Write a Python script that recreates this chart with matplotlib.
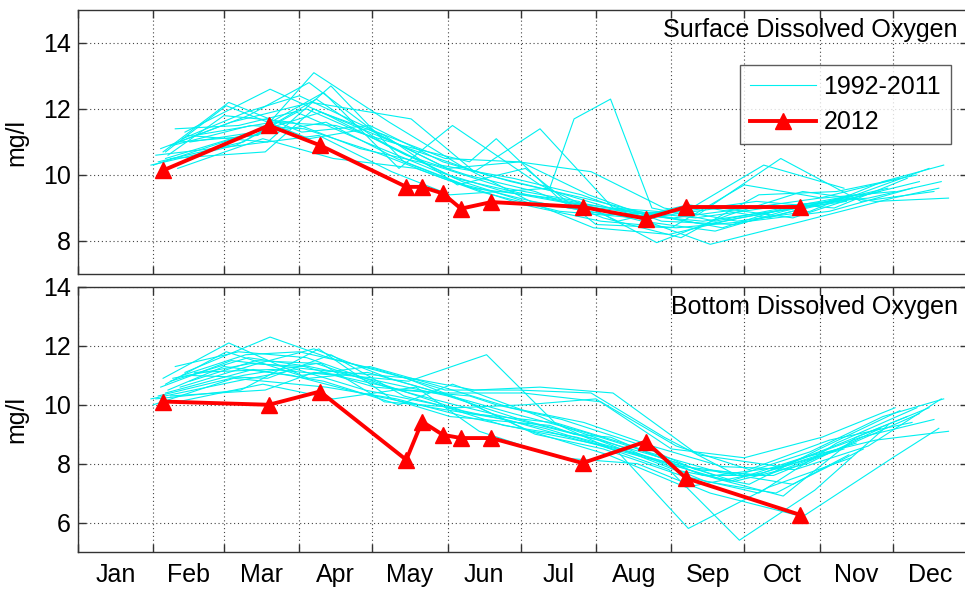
import matplotlib
matplotlib.use("Agg")
import matplotlib.pyplot as plt
import numpy as np

plt.rcParams['font.family'] = ['Liberation Sans', 'DejaVu Sans']

# ---------------- data ----------------
month_labels = ["Jan", "Feb", "Mar", "Apr", "May", "Jun",
                "Jul", "Aug", "Sep", "Oct", "Nov", "Dec"]
month_starts = [0, 31, 60, 91, 121, 152, 182, 213, 244, 274, 305, 335, 366]

# 2012 sampling (day of year, 0 = Jan 1)
days_2012 = [35, 78.5, 99.5, 135, 141.5, 150, 157.5, 170, 207.5, 233.5, 250, 297]
surface_2012 = [10.14, 11.5, 10.9, 9.64, 9.64, 9.44, 8.98, 9.18, 9.03, 8.68, 9.03, 9.03]
bottom_2012 = [10.11, 10.0, 10.45, 8.13, 9.43, 8.98, 8.87, 8.87, 8.02, 8.75, 7.51, 6.26]

# 1992-2011 sampling days, one list per year
hist_days = [
    [33, 68, 98, 127, 155, 185, 214, 245, 276, 305, 338],
    [38, 70, 95, 124, 152, 182, 210, 240, 270, 300, 330],
    [44, 79, 103, 135, 160, 188, 216, 248, 280, 312, 345],
    [35, 62, 92, 120, 150, 178, 208, 236, 265, 295, 325, 355],
    [42, 74, 97, 128, 157, 186, 218, 250, 282, 315],
    [30, 65, 90, 118, 148, 175, 205, 232, 262, 290, 320, 350],
    [36, 72, 101, 132, 154, 190, 222, 251, 284, 318],
    [40, 66, 94, 125, 158, 192, 212, 243, 272, 303, 333],
    [34, 63, 96, 137, 163, 190, 220, 255, 289, 322, 352],
    [45, 78, 104, 134, 162, 195, 226, 258, 287, 317],
    [37, 60, 88, 116, 146, 176, 206, 238, 268, 298, 328, 358],
    [32, 67, 99, 129, 153, 194, 204, 219, 236, 262, 290, 320],
    [39, 71, 93, 122, 150, 183, 215, 246, 276, 309, 343],
    [41, 76, 105, 139, 165, 198, 230, 260, 298, 335, 354],
    [43, 69, 91, 123, 151, 181, 211, 241, 271, 301, 331, 356],
    [31, 64, 102, 131, 159, 187, 217, 249, 279, 311, 341],
    [46, 73, 100, 126, 156, 184, 213, 244, 274, 306, 336],
    [36, 61, 95, 119, 149, 179, 207, 234, 264, 294, 323],
    [38, 77, 97, 136, 168, 196, 228, 257, 286, 316],
    [48, 80, 106, 133, 161, 172, 199, 229, 254, 283, 313, 346],
]

hist_surface = [
    [10.4, 11.0, 12.3, 10.9, 9.9, 9.4, 9.0, 8.7, 9.0, 9.3, 9.9],
    [10.9, 11.8, 12.8, 11.2, 10.2, 10.4, 9.4, 8.6, 8.5, 9.0, 9.5],
    [11.3, 12.6, 11.8, 10.6, 10.0, 9.5, 8.7, 8.1, 9.4, 9.5, 10.0],
    [10.7, 12.2, 11.3, 11.5, 10.4, 9.8, 9.3, 8.8, 8.4, 9.1, 9.3, 9.8],
    [11.0, 11.2, 13.1, 11.6, 10.3, 9.2, 8.8, 8.9, 10.3, 9.6],
    [10.3, 10.9, 11.9, 11.0, 10.1, 9.5, 9.1, 8.6, 8.3, 8.9, 9.4, 10.2],
    [10.5, 11.3, 12.5, 10.2, 11.5, 9.7, 8.6, 9.1, 8.7, 9.4],
    [11.4, 11.5, 12.0, 11.0, 9.8, 9.0, 8.4, 8.2, 8.7, 9.1, 9.6],
    [10.8, 11.6, 12.2, 11.7, 10.1, 11.4, 9.0, 8.8, 10.5, 9.2, 9.5],
    [11.2, 11.0, 12.7, 10.4, 9.6, 9.3, 8.9, 8.5, 8.9, 9.3],
    [10.6, 11.8, 11.6, 10.8, 10.3, 9.6, 9.2, 7.95, 8.8, 9.5, 9.2, 9.3],
    [10.6, 10.9, 11.2, 10.1, 9.4, 9.6, 11.7, 12.3, 9.0, 8.6, 9.0, 9.4],
    [10.9, 11.5, 11.4, 10.7, 9.9, 9.1, 8.6, 8.4, 8.6, 8.9, 9.6],
    [10.2, 11.1, 10.5, 10.2, 9.5, 8.9, 8.7, 7.9, 8.6, 9.3, 9.6],
    [11.1, 11.9, 12.4, 11.3, 10.5, 10.4, 10.1, 9.0, 8.6, 8.9, 9.8, 10.3],
    [10.3, 11.1, 11.6, 10.5, 9.7, 9.2, 8.8, 8.9, 9.2, 9.0, 9.9],
    [11.0, 11.3, 11.9, 11.2, 9.7, 10.2, 8.5, 8.4, 9.7, 9.3, 9.5],
    [10.7, 12.1, 11.1, 11.4, 10.3, 9.9, 9.4, 8.7, 9.0, 8.7, 9.4],
    [10.5, 10.7, 12.0, 10.8, 10.0, 9.5, 8.8, 8.6, 8.9, 9.2],
    [11.2, 11.6, 11.5, 10.9, 10.4, 11.1, 9.2, 8.9, 8.7, 9.0, 9.2, 9.8],
]

hist_bottom = [
    [10.3, 11.0, 11.4, 10.6, 10.0, 9.4, 8.8, 7.8, 7.3, 8.5, 9.8],
    [10.8, 11.6, 11.3, 10.8, 10.3, 9.5, 8.9, 8.2, 7.4, 8.0, 9.2],
    [11.1, 12.3, 11.6, 10.9, 10.1, 9.0, 8.5, 7.6, 7.0, 8.7, 9.9],
    [10.9, 12.1, 11.0, 11.3, 10.6, 9.9, 9.4, 8.6, 7.9, 7.8, 8.6, 10.2],
    [10.6, 11.4, 11.9, 10.9, 10.2, 9.1, 8.3, 7.2, 7.7, 8.5],
    [10.2, 10.8, 11.2, 10.5, 10.0, 9.3, 8.9, 8.3, 7.5, 6.9, 8.9, 9.9],
    [10.4, 11.2, 10.8, 10.0, 10.7, 9.6, 8.4, 5.8, 7.2, 8.2],
    [11.3, 11.8, 11.6, 10.7, 9.8, 9.2, 8.7, 7.8, 5.4, 7.1, 9.3],
    [10.6, 11.5, 11.2, 10.9, 10.5, 10.6, 10.4, 8.3, 7.9, 8.9, 9.5],
    [11.0, 10.9, 11.7, 10.3, 9.7, 9.4, 8.5, 7.4, 7.0, 8.3],
    [10.5, 11.3, 11.0, 10.4, 9.9, 9.5, 8.8, 8.1, 7.4, 8.2, 8.8, 9.1],
    [10.2, 10.5, 11.9, 10.2, 9.6, 9.3, 9.0, 8.9, 8.3, 7.6, 7.9, 8.7],
    [10.9, 11.4, 11.3, 10.6, 10.4, 10.4, 10.1, 8.6, 7.8, 8.8, 9.4],
    [10.1, 10.7, 10.2, 10.6, 9.1, 8.2, 8.0, 7.0, 6.2, 8.2, 9.2],
    [11.0, 11.7, 11.8, 11.2, 10.5, 10.5, 10.4, 8.9, 7.6, 8.4, 9.6, 10.2],
    [10.0, 10.9, 10.6, 10.2, 9.6, 9.1, 8.6, 7.9, 7.6, 8.6, 9.6],
    [10.8, 11.5, 11.4, 10.1, 9.9, 10.0, 10.2, 8.5, 8.2, 8.9, 9.9],
    [10.7, 11.8, 10.9, 11.1, 10.4, 9.7, 9.1, 8.4, 7.7, 7.3, 8.5],
    [10.3, 10.5, 11.1, 10.8, 11.7, 9.4, 8.6, 7.6, 7.6, 8.6],
    [11.1, 11.2, 11.0, 10.5, 10.3, 10.0, 9.5, 8.7, 7.8, 7.6, 8.5, 9.7],
]

titles = ["Surface Dissolved Oxygen", "Bottom Dissolved Oxygen"]
ylims = [(7, 15), (5, 14)]
yticks = [[8, 10, 12, 14], [6, 8, 10, 12, 14]]

# ---------------- figure ----------------
W, H = 965, 589
fig = plt.figure(figsize=(W / 100, H / 100), dpi=100)
left = 78 / W
width = (968 - 78) / W
ax1 = fig.add_axes([left, 1 - 274 / H, width, (274 - 10) / H])
ax2 = fig.add_axes([left, 1 - 552 / H, width, (552 - 287) / H])

FS = 18
mid_months = [(month_starts[i] + month_starts[i + 1]) / 2 for i in range(12)]

for k, (ax, hist, v2012) in enumerate([(ax1, hist_surface, surface_2012),
                                        (ax2, hist_bottom, bottom_2012)]):
    for i, (d, v) in enumerate(zip(hist_days, hist)):
        ax.plot(d, v, color='#00f0f0', lw=0.8,
                label='1992-2011' if i == 0 else None, zorder=2)
    ax.plot(days_2012, v2012, color='red', lw=2.8, marker='^',
            markersize=11, markerfacecolor='red', markeredgecolor='red',
            label='2012', zorder=3)
    ax.set_xlim(0, 366)
    ax.set_ylim(*ylims[k])
    ax.set_yticks(yticks[k])
    ax.set_xticks(month_starts[:12])
    ax.set_xticklabels([])
    ax.set_xticks(mid_months, minor=True)
    if k == 1:
        ax.set_xticklabels(month_labels, minor=True)
    ax.tick_params(axis='x', which='minor', length=0, labelsize=FS, pad=8)
    ax.tick_params(axis='both', which='major', direction='in', length=6,
                   width=1, labelsize=FS, top=True, right=True, color='#333333')
    ax.tick_params(axis='y', pad=5)
    ax.grid(True, which='major', linestyle=(0, (1, 2.5)), color='#444444', lw=0.8)
    for s in ax.spines.values():
        s.set_color('#333333')
        s.set_linewidth(1)
    ax.set_ylabel('mg/l', fontsize=FS)
    ax.yaxis.set_label_coords(-0.056, 0.5)
    ax.text((958 - 78) / (968 - 78), 0.97, titles[k], transform=ax.transAxes,
            ha='right', va='top', fontsize=FS)

leg = ax1.legend(loc='upper right',
                 bbox_to_anchor=((951 - 78) / (968 - 78), 1 - (65 - 10) / (274 - 10)),
                 fontsize=FS, frameon=True, fancybox=False, handlelength=2.65,
                 borderpad=0.4, labelspacing=0.45, handletextpad=0.3,
                 borderaxespad=0)
leg.get_frame().set_edgecolor('#333333')
leg.get_frame().set_linewidth(1)

fig.savefig('out.png', dpi=100)
